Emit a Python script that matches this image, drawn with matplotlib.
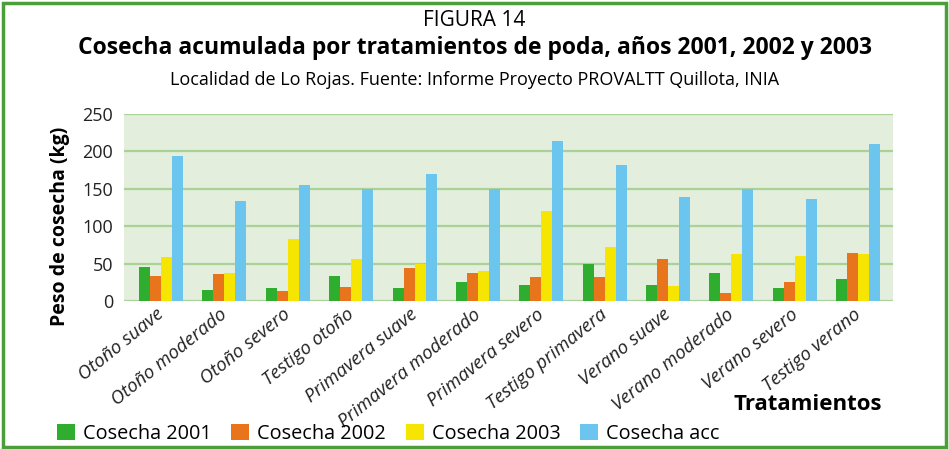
import numpy as np
import matplotlib
matplotlib.use("Agg")
import matplotlib.pyplot as plt
import matplotlib.transforms as mtransforms
from matplotlib.patches import Rectangle

####################################################
### Data

tratamientos = ["Otoño suave", "Otoño moderado", "Otoño severo", "Testigo otoño",
                "Primavera suave", "Primavera moderado", "Primavera severo",
                "Testigo primavera", "Verano suave", "Verano moderado",
                "Verano severo", "Testigo verano"]

cosecha_2001 = [45, 15, 17, 33, 17, 25, 21, 49, 21, 37, 17, 29]
cosecha_2002 = [33, 36, 13, 19, 44, 37, 32, 32, 56, 11, 25, 64]
cosecha_2003 = [59, 37, 83, 56, 50, 40, 120, 72, 20, 63, 60, 63]
cosecha_acc  = [194, 134, 155, 150, 170, 150, 214, 182, 139, 150, 136, 210]

series = [("Cosecha 2001", cosecha_2001, "#2fad2f"),
          ("Cosecha 2002", cosecha_2002, "#e8741b"),
          ("Cosecha 2003", cosecha_2003, "#f6e500"),
          ("Cosecha acc",  cosecha_acc,  "#6bc5ef")]

####################################################
### Plot

plt.rcParams['font.family'] = ['Open Sans', 'DejaVu Sans']

W, H = 949, 449
fig = plt.figure(figsize=(W/100, H/100), dpi=100)

ax = fig.add_axes([124/W, 148/H, 769/W, 187/H])
ax.set_facecolor("#e3efdc")

x = np.arange(len(tratamientos))
w = 0.1736
for k, (name, vals, col) in enumerate(series):
    ax.bar(x + (k - 1.5)*w, vals, width=w, color=col, label=name, zorder=3)

ax.set_ylim(0, 250)
ax.set_xlim(-0.584, 11.55)
ax.set_yticks([0, 50, 100, 150, 200, 250])
ax.yaxis.grid(True, color="#a9d296", lw=1.6, zorder=1)
ax.set_axisbelow(True)
for s in ax.spines.values():
    s.set_visible(False)
ax.tick_params(axis='both', length=0, labelsize=13, colors="#222222")
ax.tick_params(axis='y', pad=8)
ax.tick_params(axis='x', pad=3)

ax.set_xticks(x)
ax.set_xticklabels(tratamientos, rotation=39, ha='right', va='top',
                   rotation_mode='anchor', style='italic', fontsize=13.5)
shift = mtransforms.ScaledTranslation(-5/100, 0, fig.dpi_scale_trans)
for lab in ax.get_xticklabels():
    lab.set_transform(lab.get_transform() + shift)

ax.set_ylabel("Peso de cosecha (kg)", fontsize=14, fontweight='bold')
ax.yaxis.set_label_coords((70 - 124)/769, (301 - 226)/187)

fig.text(808/W, 1 - 405/H, "Tratamientos", ha='center', va='center',
         fontsize=16, fontweight='bold')

fig.text(0.5, 1 - 20/H, "FIGURA 14", ha='center', va='center', fontsize=15)
fig.text(0.5, 1 - 48/H, "Cosecha acumulada por tratamientos de poda, años 2001, 2002 y 2003",
         ha='center', va='center', fontsize=16.5, fontweight='bold')
fig.text(0.5, 1 - 80/H, "Localidad de Lo Rojas. Fuente: Informe Proyecto PROVALTT Quillota, INIA",
         ha='center', va='center', fontsize=13)

fig.legend(loc='center left', bbox_to_anchor=(57/W, 1 - 434/H), ncol=4, frameon=False,
           fontsize=14.3, handlelength=0.9, handleheight=0.9, handletextpad=0.4,
           columnspacing=1.0, borderaxespad=0, borderpad=0)

fig.patches.append(Rectangle((0.003, 0.004), 0.994, 0.99, transform=fig.transFigure,
                             fill=False, edgecolor="#4c9e38", lw=2.5))

fig.savefig("out.png", dpi=100)
